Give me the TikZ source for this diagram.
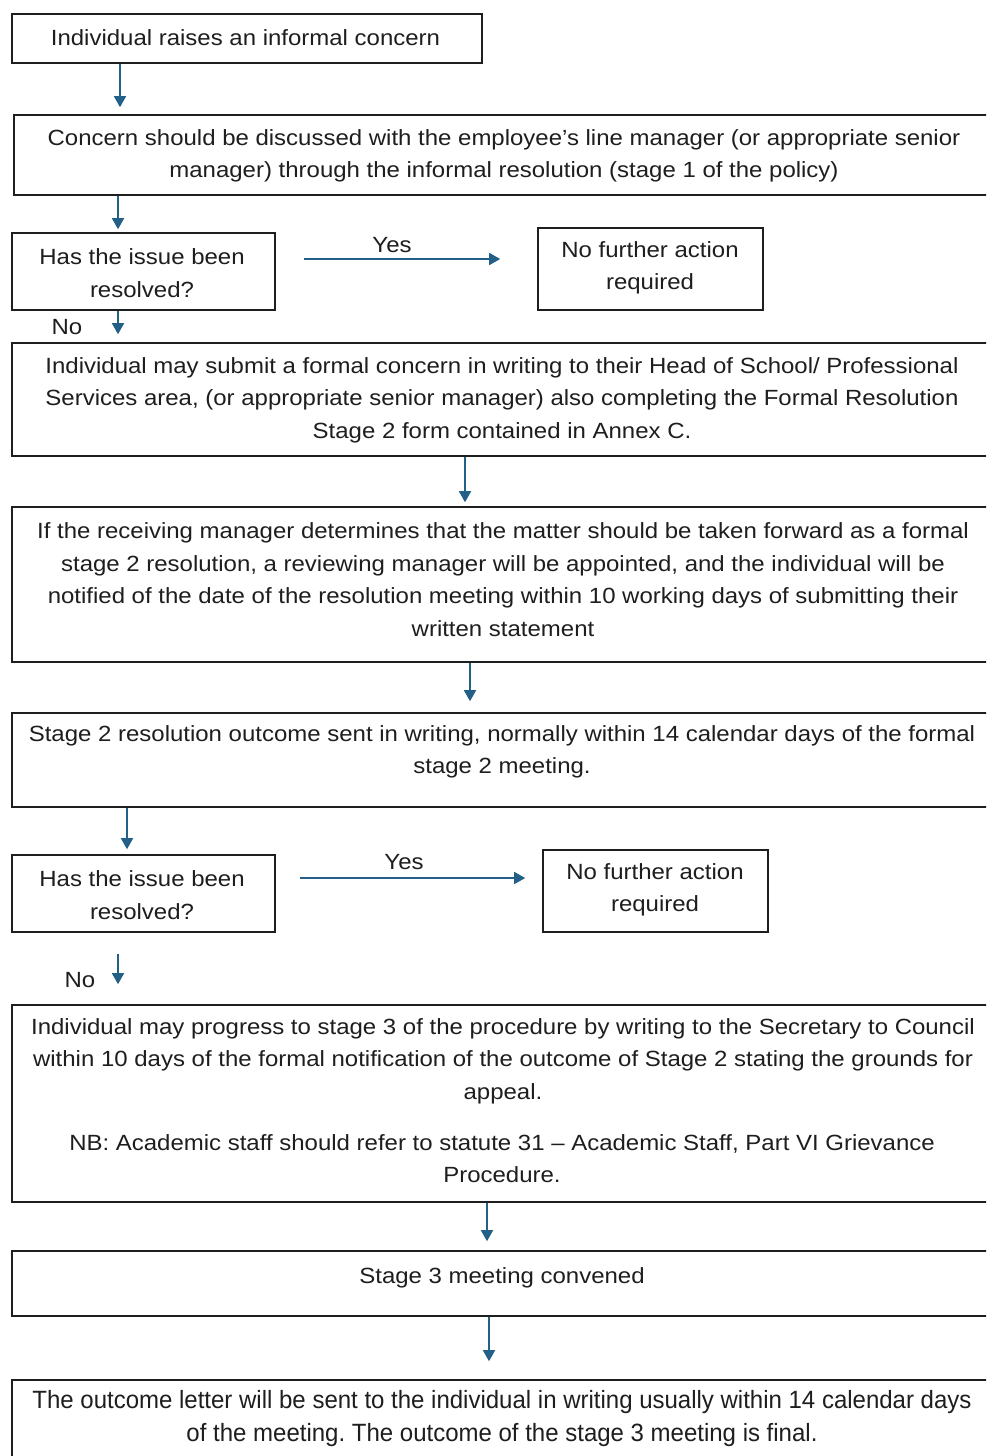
\documentclass[tikz,border=0pt]{standalone}
\usepackage{fontspec}
\setmainfont{Liberation Sans}[FakeStretch=1.09]
\newfontfamily\narrowfont{Liberation Sans}[FakeStretch=0.96]
\usetikzlibrary{arrows.meta}
\frenchspacing
\definecolor{arrowblue}{RGB}{34,96,135}
\definecolor{inkgray}{RGB}{30,30,30}
\tikzset{
  box/.style={draw=inkgray, line width=1.6pt, inner sep=0pt, fill=white},
  txt/.style={align=center, inner sep=0pt, text=inkgray, font=\fontsize{22}{32.5}\selectfont},
  lbl/.style={inner sep=0pt, text=inkgray, font=\fontsize{22}{26}\selectfont},
  arr/.style={draw=arrowblue, line width=1.6pt, -{Triangle[width=12pt,length=11pt]}},
}
\begin{document}
\begin{tikzpicture}[x=1pt,y=-1pt]
\useasboundingbox (0,0) rectangle (986,1456);
\clip (0,0) rectangle (986,1456);
\fill[white] (0,0) rectangle (986,1456);
% boxes
\node[box, minimum width=470pt, minimum height=49pt] (b1) at (247,38.5) {};
\node[box, minimum width=981pt, minimum height=80pt] (b2) at (504.5,155) {};
\node[box, minimum width=263pt, minimum height=77pt] (b3) at (143.5,271.5) {};
\node[box, minimum width=225pt, minimum height=82pt] (b4) at (650.5,269) {};
\node[box, minimum width=983pt, minimum height=113pt] (b5) at (503.5,399.5) {};
\node[box, minimum width=983pt, minimum height=155pt] (b6) at (503.5,584.5) {};
\node[box, minimum width=983pt, minimum height=94pt] (b7) at (503.5,760) {};
\node[box, minimum width=263pt, minimum height=77pt] (b8) at (143.5,893.5) {};
\node[box, minimum width=225pt, minimum height=82pt] (b9) at (655.5,891) {};
\node[box, minimum width=983pt, minimum height=197pt] (b10) at (503.5,1103.5) {};
\node[box, minimum width=983pt, minimum height=65pt] (b11) at (503.5,1283.5) {};
\node[box, minimum width=983pt, minimum height=90pt] (b12) at (503.5,1425) {};
% texts
\node[txt] (t1) at (245.5,38) {Individual raises an informal concern};
\node[txt] (t2) at (504,156) {Concern should be discussed with the employee’s line manager (or appropriate senior\\manager) through the informal resolution (stage 1 of the policy)};
\node[txt] (t3) at (142,273) {Has the issue been\\resolved?};
\node[txt] (t4) at (650,268) {No further action\\required};
\node[txt] (t5) at (502,400) {Individual may submit a formal concern in writing to their Head of School/ Professional\\Services area, (or appropriate senior manager) also completing the Formal Resolution\\Stage 2 form contained in Annex C.};
\node[txt] (t6) at (503,579.5) {If the receiving manager determines that the matter should be taken forward as a formal\\stage 2 resolution, a reviewing manager will be appointed, and the individual will be\\notified of the date of the resolution meeting within 10 working days of submitting their\\written statement};
\node[txt] (t7) at (502,752) {Stage 2 resolution outcome sent in writing, normally within 14 calendar days of the formal\\stage 2 meeting.};
\node[txt] (t8) at (142,895) {Has the issue been\\resolved?};
\node[txt] (t9) at (655,890) {No further action\\required};
\node[txt] (t10a) at (503,1061) {Individual may progress to stage 3 of the procedure by writing to the Secretary to Council\\within 10 days of the formal notification of the outcome of Stage 2 stating the grounds for\\appeal.};
\node[txt] (t10b) at (502,1158.5) {NB: Academic staff should refer to statute 31 – Academic Staff, Part VI Grievance\\Procedure.};
\node[txt] (t11) at (502,1277.5) {Stage 3 meeting convened};
\node[txt, font=\narrowfont\fontsize{25}{33}\selectfont] (t12) at (502,1418.5) {The outcome letter will be sent to the individual in writing usually within 14 calendar days\\of the meeting. The outcome of the stage 3 meeting is final.};
% labels
\node[lbl] (y1) at (392,245) {Yes};
\node[lbl] (y2) at (404,862) {Yes};
\node[lbl] (n1) at (67,327) {No};
\node[lbl] (n2) at (80,980) {No};
% connectors
\draw[arr, shorten >=7pt] (b1.south -| 120,0) -- (b2.north -| 120,0);
\draw[arr, shorten >=3pt] (b2.south -| 118,0) -- (b3.north -| 118,0);
\draw[arr, shorten <=28pt, shorten >=37pt] (b3.east |- 0,259) -- (b4.west |- 0,259);
\draw[arr, shorten >=8pt] (b3.south -| 118,0) -- (b5.north -| 118,0);
\draw[arr, shorten >=4pt] (b5.south -| 465,0) -- (b6.north -| 465,0);
\draw[arr, shorten >=11pt] (b6.south -| 470,0) -- (b7.north -| 470,0);
\draw[arr, shorten >=5pt] (b7.south -| 127,0) -- (b8.north -| 127,0);
\draw[arr, shorten <=24pt, shorten >=17pt] (b8.east |- 0,878) -- (b9.west |- 0,878);
\draw[arr, shorten <=21pt, shorten >=20pt] (b8.south -| 118,0) -- (b10.north -| 118,0);
\draw[arr, shorten >=9pt] (b10.south -| 487,0) -- (b11.north -| 487,0);
\draw[arr, shorten >=18pt] (b11.south -| 489,0) -- (b12.north -| 489,0);
\end{tikzpicture}
\end{document}
